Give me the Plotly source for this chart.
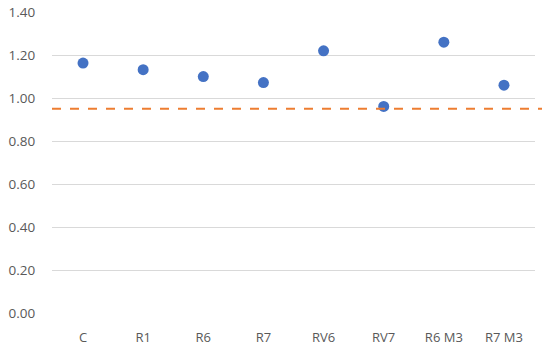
import plotly.graph_objects as go

categories = ["C", "R1", "R6", "R7", "RV6", "RV7", "R6 M3", "R7 M3"]
values = [1.163, 1.132, 1.10, 1.072, 1.22, 0.961, 1.26, 1.06]
reference_value = 0.95
y_ticks = [0.0, 0.2, 0.4, 0.6, 0.8, 1.0, 1.2, 1.4]

fig = go.Figure()
fig.add_trace(go.Scatter(
    x=categories, y=values, mode="markers",
    marker=dict(color="#4472C4", size=11, line=dict(width=0)),
    showlegend=False, cliponaxis=False,
))
fig.add_shape(
    type="line", xref="paper", yref="y",
    x0=0, x1=1.04, y0=reference_value, y1=reference_value,
    line=dict(color="#ED7D31", width=2, dash="dash"),
)

fig.update_layout(
    width=542, height=339,
    margin=dict(l=44, r=15, t=4, b=34, autoexpand=False),
    paper_bgcolor="white", plot_bgcolor="white",
    font=dict(family="Open Sans", size=13, color="#595959"),
    xaxis=dict(
        type="category", showgrid=False, showline=False, zeroline=False,
        automargin=False, ticklabeloverflow="allow",
        ticks="outside", ticklen=12, tickcolor="rgba(0,0,0,0)",
        tickfont=dict(size=13, color="#595959"),
    ),
    yaxis=dict(
        range=[0, 1.4005], tickvals=y_ticks,
        ticktext=[f"{v:.2f}" for v in y_ticks],
        showgrid=True, gridcolor="#D9D9D9", gridwidth=1,
        zeroline=False, showline=False, automargin=False,
        ticklabeloverflow="allow",
        ticks="outside", ticklen=13, tickcolor="rgba(0,0,0,0)",
        tickfont=dict(size=13.5, color="#595959"),
    ),
)

fig.write_html("out.html")
